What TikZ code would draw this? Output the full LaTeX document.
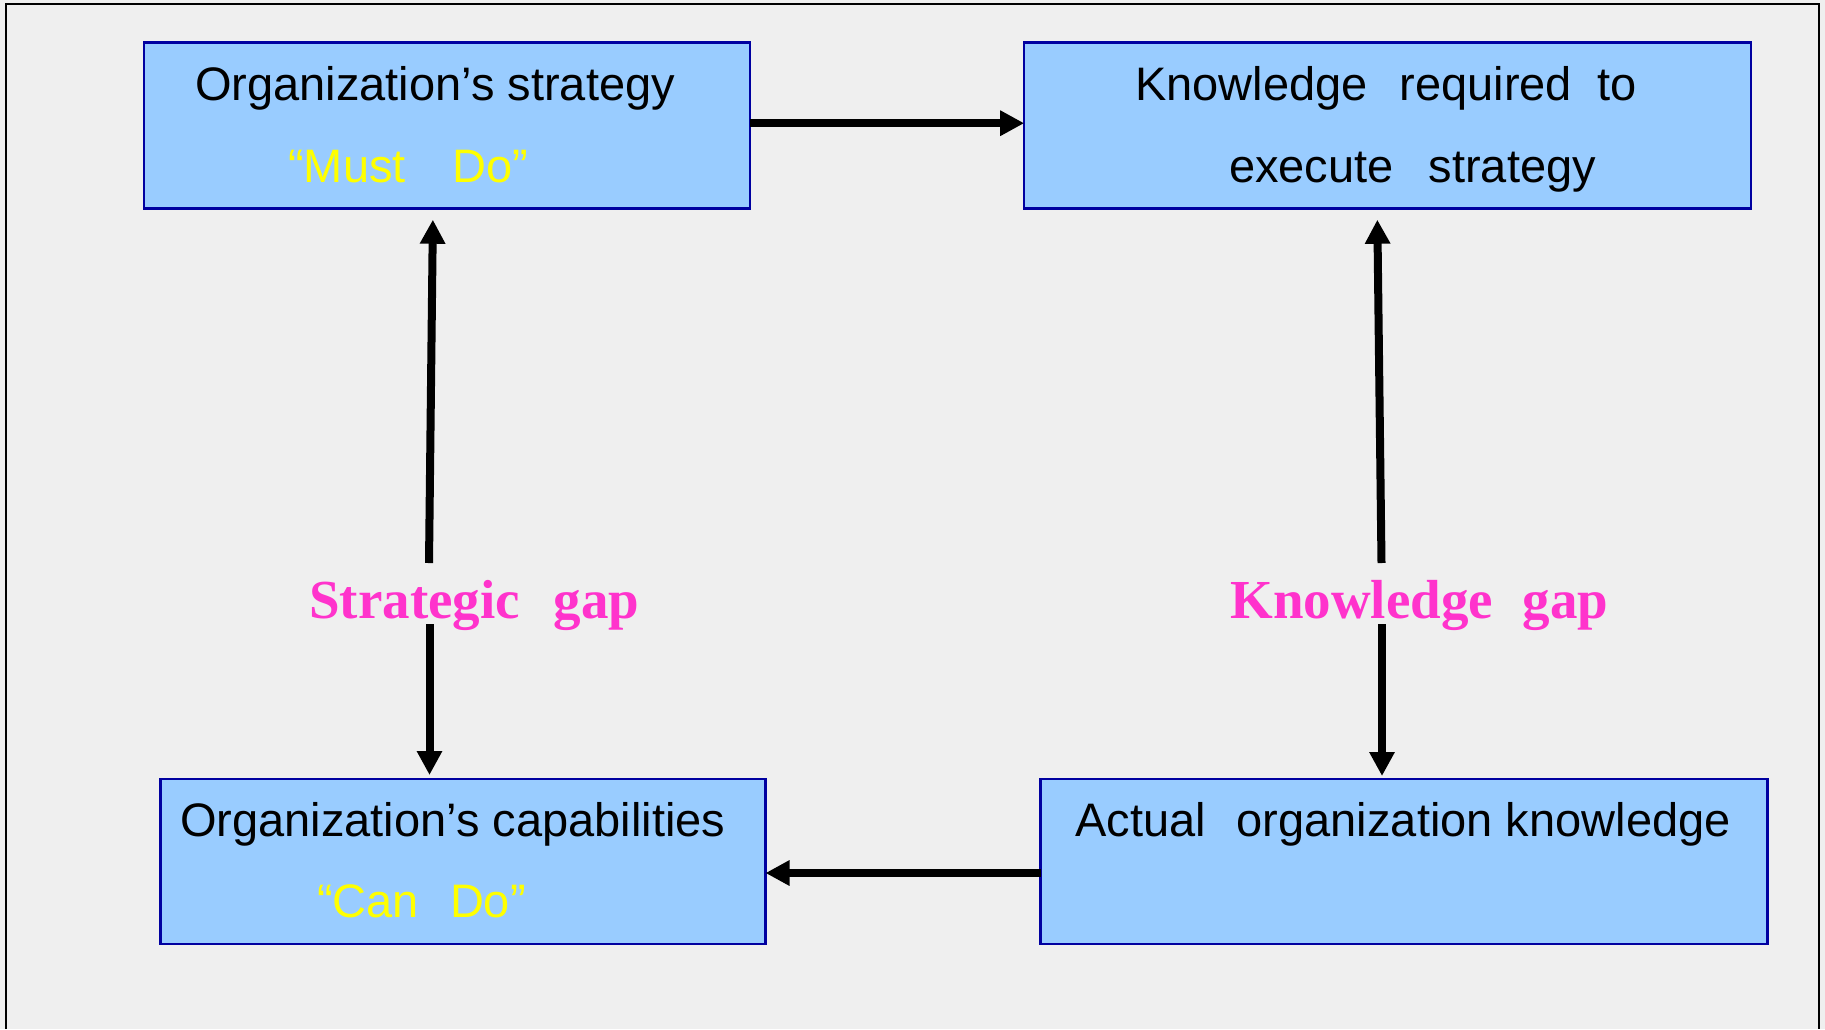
\documentclass[tikz,border=0pt]{standalone}
\usepackage{fontspec}
\setmainfont{Liberation Sans}
\newfontfamily\gapfont{Liberation Serif}
\usetikzlibrary{arrows.meta}

\definecolor{paper}{RGB}{239,239,239}
\definecolor{boxfill}{RGB}{153,204,255}
\definecolor{boxline}{RGB}{0,0,160}
\definecolor{quoteyellow}{RGB}{255,255,0}
\definecolor{gappink}{RGB}{255,51,204}

\tikzset{
  box/.style={draw=boxline, line width=2.5pt, fill=boxfill, inner sep=0pt, outer sep=0pt},
  boxtext/.style={anchor=base west, inner sep=0pt, font=\fontsize{47}{56}\selectfont},
  quotetext/.style={boxtext, text=quoteyellow},
  gaplabel/.style={anchor=base west, inner sep=0pt, text=gappink,
    font=\gapfont\bfseries\fontsize{55}{66}\selectfont},
  arr/.style={line width=8pt, -{Triangle[length=24pt,width=24pt]}},
}

\begin{document}
\begin{tikzpicture}[x=1pt,y=-1pt]
  % page and frame
  \fill[paper] (0,0) rectangle (1825,1029);
  \useasboundingbox (0,0) rectangle (1825,1029);
  \draw[line width=2pt] (6,1029) -- (6,4.3) -- (1819.3,4.3) -- (1819.3,1029);

  % boxes
  \node[box, minimum width=606pt, minimum height=166pt] (strat) at (447,125.7) {};
  \node[box, minimum width=727pt, minimum height=166pt] (know) at (1387.7,125.7) {};
  \node[box, minimum width=605pt, minimum height=165pt] (cap) at (463,861.5) {};
  \node[box, minimum width=727pt, minimum height=165pt] (act) at (1404,861.5) {};

  % box texts
  \node[boxtext] (t1a) at (195,100) {Organization’s strategy};
  \node[quotetext] (t1b) at (288,182) {“Must\hspace*{47pt}Do”};
  \node[boxtext] (t2a) at (1135,100) {Knowledge\hspace*{32pt}required\hspace*{25pt}to};
  \node[boxtext] (t2b) at (1229,182) {execute\hspace*{35pt}strategy};
  \node[boxtext] (t3a) at (180,836) {Organization’s capabilities};
  \node[quotetext] (t3b) at (317,917) {“Can\hspace*{31pt}Do”};
  \node[boxtext] (t4a) at (1075,836) {Actual\hspace*{31pt}organization knowledge};

  % gap labels
  \node[gaplabel] (sg) at (309,618) {Strategic\hspace*{34pt}gap};
  \node[gaplabel] (kg) at (1230,618) {Knowledge\hspace*{30pt}gap};

  % loose ends of the gap arrows next to the labels
  \coordinate (sgUp) at (429,563);
  \coordinate (sgDown) at (429.5,624);
  \coordinate (kgUp) at (1381.5,563);
  \coordinate (kgDown) at (1382,624);

  % connectors
  \draw[arr] ([yshift=2.5pt]strat.east) -- ([yshift=2.5pt]know.west);
  \draw[arr] ([yshift=-11.5pt]act.west) -- ([yshift=-11.5pt]cap.east);
  \draw[arr, shorten >=11pt] (sgUp) -- ([xshift=-14pt]strat.south);
  \draw[arr, shorten >=4pt] (sgDown) -- ([xshift=-33.5pt]cap.north);
  \draw[arr, shorten >=11pt] (kgUp) -- ([xshift=-10.5pt]know.south);
  \draw[arr, shorten >=3pt] (kgDown) -- ([xshift=-22pt]act.north);
\end{tikzpicture}
\end{document}
